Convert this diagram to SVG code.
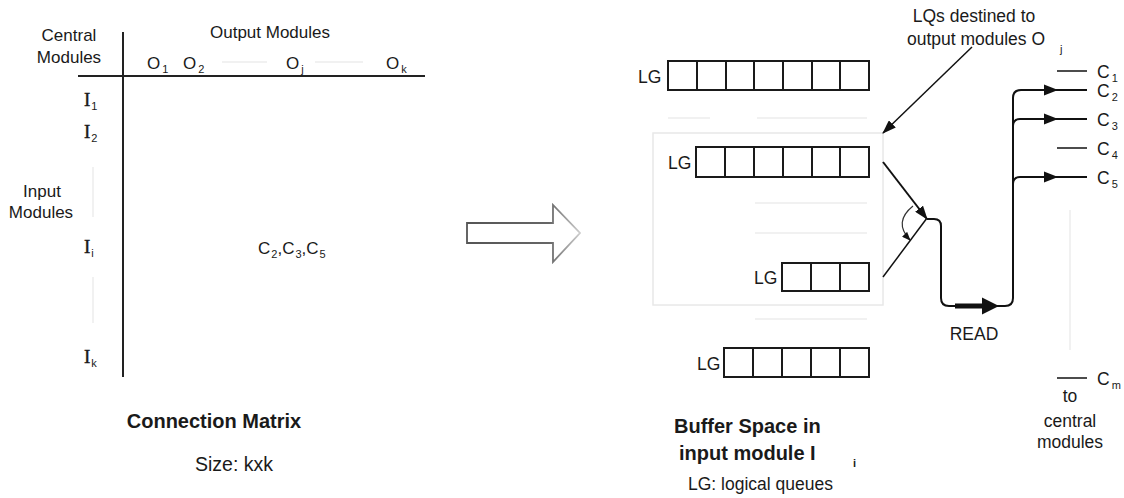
<svg xmlns="http://www.w3.org/2000/svg" width="1124" height="498" viewBox="0 0 1124 498">
  <style>
    text { font-family: "Liberation Sans", Arial, sans-serif; fill: #1a1a1a; }
    .lbl { font-size: 17px; }
    .lblr { font-size: 17.5px; }
    .serif { font-family: "Liberation Serif", "Times New Roman", serif; font-size: 19px; stroke: #1a1a1a; stroke-width: 0.4; }
    .serif .sub { font-family: "Liberation Sans", Arial, sans-serif; stroke: none; }
    .bold { font-weight: bold; font-size: 20px; }
    .sub { font-size: 11px; }
    .axis { stroke: #222; stroke-width: 2; fill: none; }
    .faint { stroke: #ececec; stroke-width: 1.5; fill: none; }
    .cell { stroke: #1a1a1a; stroke-width: 2; fill: #fff; }
    .wire { stroke: #111; stroke-width: 2; fill: none; }
    .thin { stroke: #111; stroke-width: 1.5; fill: none; }
    .mid { text-anchor: middle; }
  </style>
  <defs>
    <marker id="tri" viewBox="0 0 14 10" refX="13" refY="5" markerWidth="14" markerHeight="10" markerUnits="userSpaceOnUse" orient="auto">
      <path d="M0,0 L14,5 L0,10 Z" fill="#111"/>
    </marker>
    <marker id="tiny" viewBox="0 0 10 8" refX="9" refY="4" markerWidth="9" markerHeight="7" markerUnits="userSpaceOnUse" orient="auto">
      <path d="M0,0 L10,4 L0,8 Z" fill="#111"/>
    </marker>
    <path id="head" d="M0,0 L-14,-5.5 L-14,5.5 Z" fill="#111"/>
    <linearGradient id="fade" gradientUnits="userSpaceOnUse" x1="467" y1="0" x2="581" y2="0">
      <stop offset="0" stop-color="#555"/>
      <stop offset="0.72" stop-color="#666"/>
      <stop offset="1" stop-color="#d0d0d0"/>
    </linearGradient>
  </defs>

  <!-- Connection matrix -->
  <g id="matrix">
    <line class="axis" x1="123" y1="32" x2="123" y2="377"/>
    <line class="axis" x1="78" y1="76" x2="425" y2="76"/>
    <text class="lbl mid" x="69" y="41">Central</text>
    <text class="lbl mid" x="69" y="63">Modules</text>
    <text class="lbl mid" x="270" y="38">Output Modules</text>
    <text class="lbl" x="147" y="69">O<tspan class="sub" dx="2" dy="4">1</tspan></text>
    <text class="lbl" x="183" y="69">O<tspan class="sub" dx="2" dy="4">2</tspan></text>
    <text class="lbl" x="286" y="69">O<tspan class="sub" dx="2" dy="4">j</tspan></text>
    <text class="lbl" x="386" y="69">O<tspan class="sub" dx="2" dy="4">k</tspan></text>
    <line class="faint" x1="222" y1="62" x2="267" y2="62"/>
    <line class="faint" x1="315" y1="62" x2="363" y2="62"/>
    <text class="serif" x="84" y="106">I<tspan class="sub" dx="1" dy="4">1</tspan></text>
    <text class="serif" x="84" y="138">I<tspan class="sub" dx="1" dy="4">2</tspan></text>
    <text class="serif" x="84" y="253">I<tspan class="sub" dx="1" dy="4">i</tspan></text>
    <text class="serif" x="84" y="363">I<tspan class="sub" dx="1" dy="4">k</tspan></text>
    <line class="faint" x1="93" y1="167" x2="93" y2="217"/>
    <line class="faint" x1="93" y1="277" x2="93" y2="323"/>
    <text class="lbl mid" x="42" y="197">Input</text>
    <text class="lbl mid" x="41" y="218">Modules</text>
    <text class="lbl" font-size="18" x="258" y="254">C<tspan class="sub" dx="1" dy="4">2</tspan><tspan dy="-4">,C</tspan><tspan class="sub" dx="1" dy="4">3</tspan><tspan dy="-4">,C</tspan><tspan class="sub" dx="1" dy="4">5</tspan></text>
    <text class="bold mid" x="214" y="428">Connection Matrix</text>
    <text class="mid" font-size="19.5" x="234" y="471">Size: kxk</text>
  </g>

  <!-- Hollow transition arrow -->
  <g id="transform-arrow">
    <path d="M467,223 L553,223 L553,205 L580,233 L553,262 L553,243 L467,243 Z" fill="#fff" stroke="url(#fade)" stroke-width="1.8"/>
  </g>

  <!-- Buffer space area -->
  <g id="buffer-frame">
    <rect x="653" y="133" width="230" height="172" fill="none" stroke="#e8e8e8" stroke-width="1.5"/>
    <line class="faint" x1="668" y1="118" x2="710" y2="118"/>
    <line class="faint" x1="757" y1="118" x2="867" y2="118"/>
    <line class="faint" x1="755" y1="203" x2="867" y2="203"/>
    <line class="faint" x1="755" y1="233" x2="867" y2="233"/>
    <line class="faint" x1="755" y1="319" x2="867" y2="319"/>
    <line class="faint" x1="1070" y1="210" x2="1070" y2="350"/>
  </g>

  <g id="queue-1">
    <text class="lblr" x="638" y="83">LG</text>
    <rect class="cell" x="668" y="61" width="201" height="29"/>
    <path class="cell" d="M697,61 V90 M726,61 V90 M754,61 V90 M783,61 V90 M812,61 V90 M840,61 V90"/>
  </g>

  <g id="queue-2">
    <text class="lblr" x="668" y="169">LG</text>
    <rect class="cell" x="696" y="147" width="173" height="30"/>
    <path class="cell" d="M725,147 V177 M754,147 V177 M783,147 V177 M812,147 V177 M840,147 V177"/>
  </g>

  <g id="queue-3">
    <text class="lblr" x="754" y="284">LG</text>
    <rect class="cell" x="782" y="263" width="87" height="28"/>
    <path class="cell" d="M811,263 V291 M840,263 V291"/>
  </g>

  <g id="queue-4">
    <text class="lblr" x="697" y="370">LG</text>
    <rect class="cell" x="724" y="348" width="145" height="29"/>
    <path class="cell" d="M753,348 V377 M782,348 V377 M811,348 V377 M840,348 V377"/>
  </g>

  <g id="lq-note">
    <text class="lblr mid" x="974" y="22">LQs destined to</text>
    <text class="lblr mid" x="976" y="45">output modules O</text>
    <text class="sub" x="1060" y="53">j</text>
  </g>

  <g id="central-links">
    <line class="thin" x1="1057" y1="71" x2="1087" y2="71"/>
    <line class="thin" x1="1057" y1="148" x2="1087" y2="148"/>
    <line class="thin" x1="1057" y1="378" x2="1087" y2="378"/>
    <text class="lblr" x="1097" y="78">C<tspan class="sub" dx="2" dy="4">1</tspan></text>
    <text class="lblr" x="1097" y="97">C<tspan class="sub" dx="2" dy="4">2</tspan></text>
    <text class="lblr" x="1097" y="126">C<tspan class="sub" dx="2" dy="4">3</tspan></text>
    <text class="lblr" x="1097" y="155">C<tspan class="sub" dx="2" dy="4">4</tspan></text>
    <text class="lblr" x="1097" y="184">C<tspan class="sub" dx="2" dy="4">5</tspan></text>
    <text class="lblr" x="1097" y="385">C<tspan class="sub" dx="2" dy="4">m</tspan></text>
    <text class="lblr mid" x="1070" y="402">to</text>
    <text class="lblr mid" x="1070" y="427">central</text>
    <text class="lblr mid" x="1070" y="448">modules</text>
  </g>

  <g id="captions">
    <text class="bold" x="674" y="433">Buffer Space in</text>
    <text class="bold" x="679" y="460">input module I</text>
    <text class="sub" font-weight="bold" x="853" y="467">i</text>
    <text class="lblr" x="688" y="490">LG: logical queues</text>
    <text class="lblr mid" x="974" y="340">READ</text>
  </g>

  <!-- Connectors -->
  <g id="connectors">
    <line class="thin" x1="972" y1="47" x2="883" y2="133" marker-end="url(#tri)"/>
    <!-- switch arms -->
    <line class="wire" x1="883" y1="162" x2="927" y2="219" marker-end="url(#tri)"/>
    <line class="thin" x1="883" y1="277" x2="927" y2="218"/>
    <path d="M913,206 Q893,222 910,240" stroke="#333" stroke-width="1.2" fill="none" marker-end="url(#tiny)"/>
    <!-- read path to the central module links -->
    <path class="wire" d="M927,219 L934,219 Q941,219 941,226 L941,298 Q941,306 949,306 L1005,306 Q1013,306 1013,298 L1013,98 Q1013,90 1021,90 L1087,90"/>
    <path class="wire" d="M1013,126 Q1013,119 1020,119 L1087,119"/>
    <path class="wire" d="M1013,184 Q1013,177 1020,177 L1087,177"/>
    <line x1="955" y1="306" x2="990" y2="306" stroke="#111" stroke-width="5"/>
    <path d="M999,306 L982,297.5 L982,314.5 Z" fill="#111"/>
    <use href="#head" x="1058" y="90"/>
    <use href="#head" x="1058" y="119"/>
    <use href="#head" x="1058" y="177"/>
  </g>
</svg>
